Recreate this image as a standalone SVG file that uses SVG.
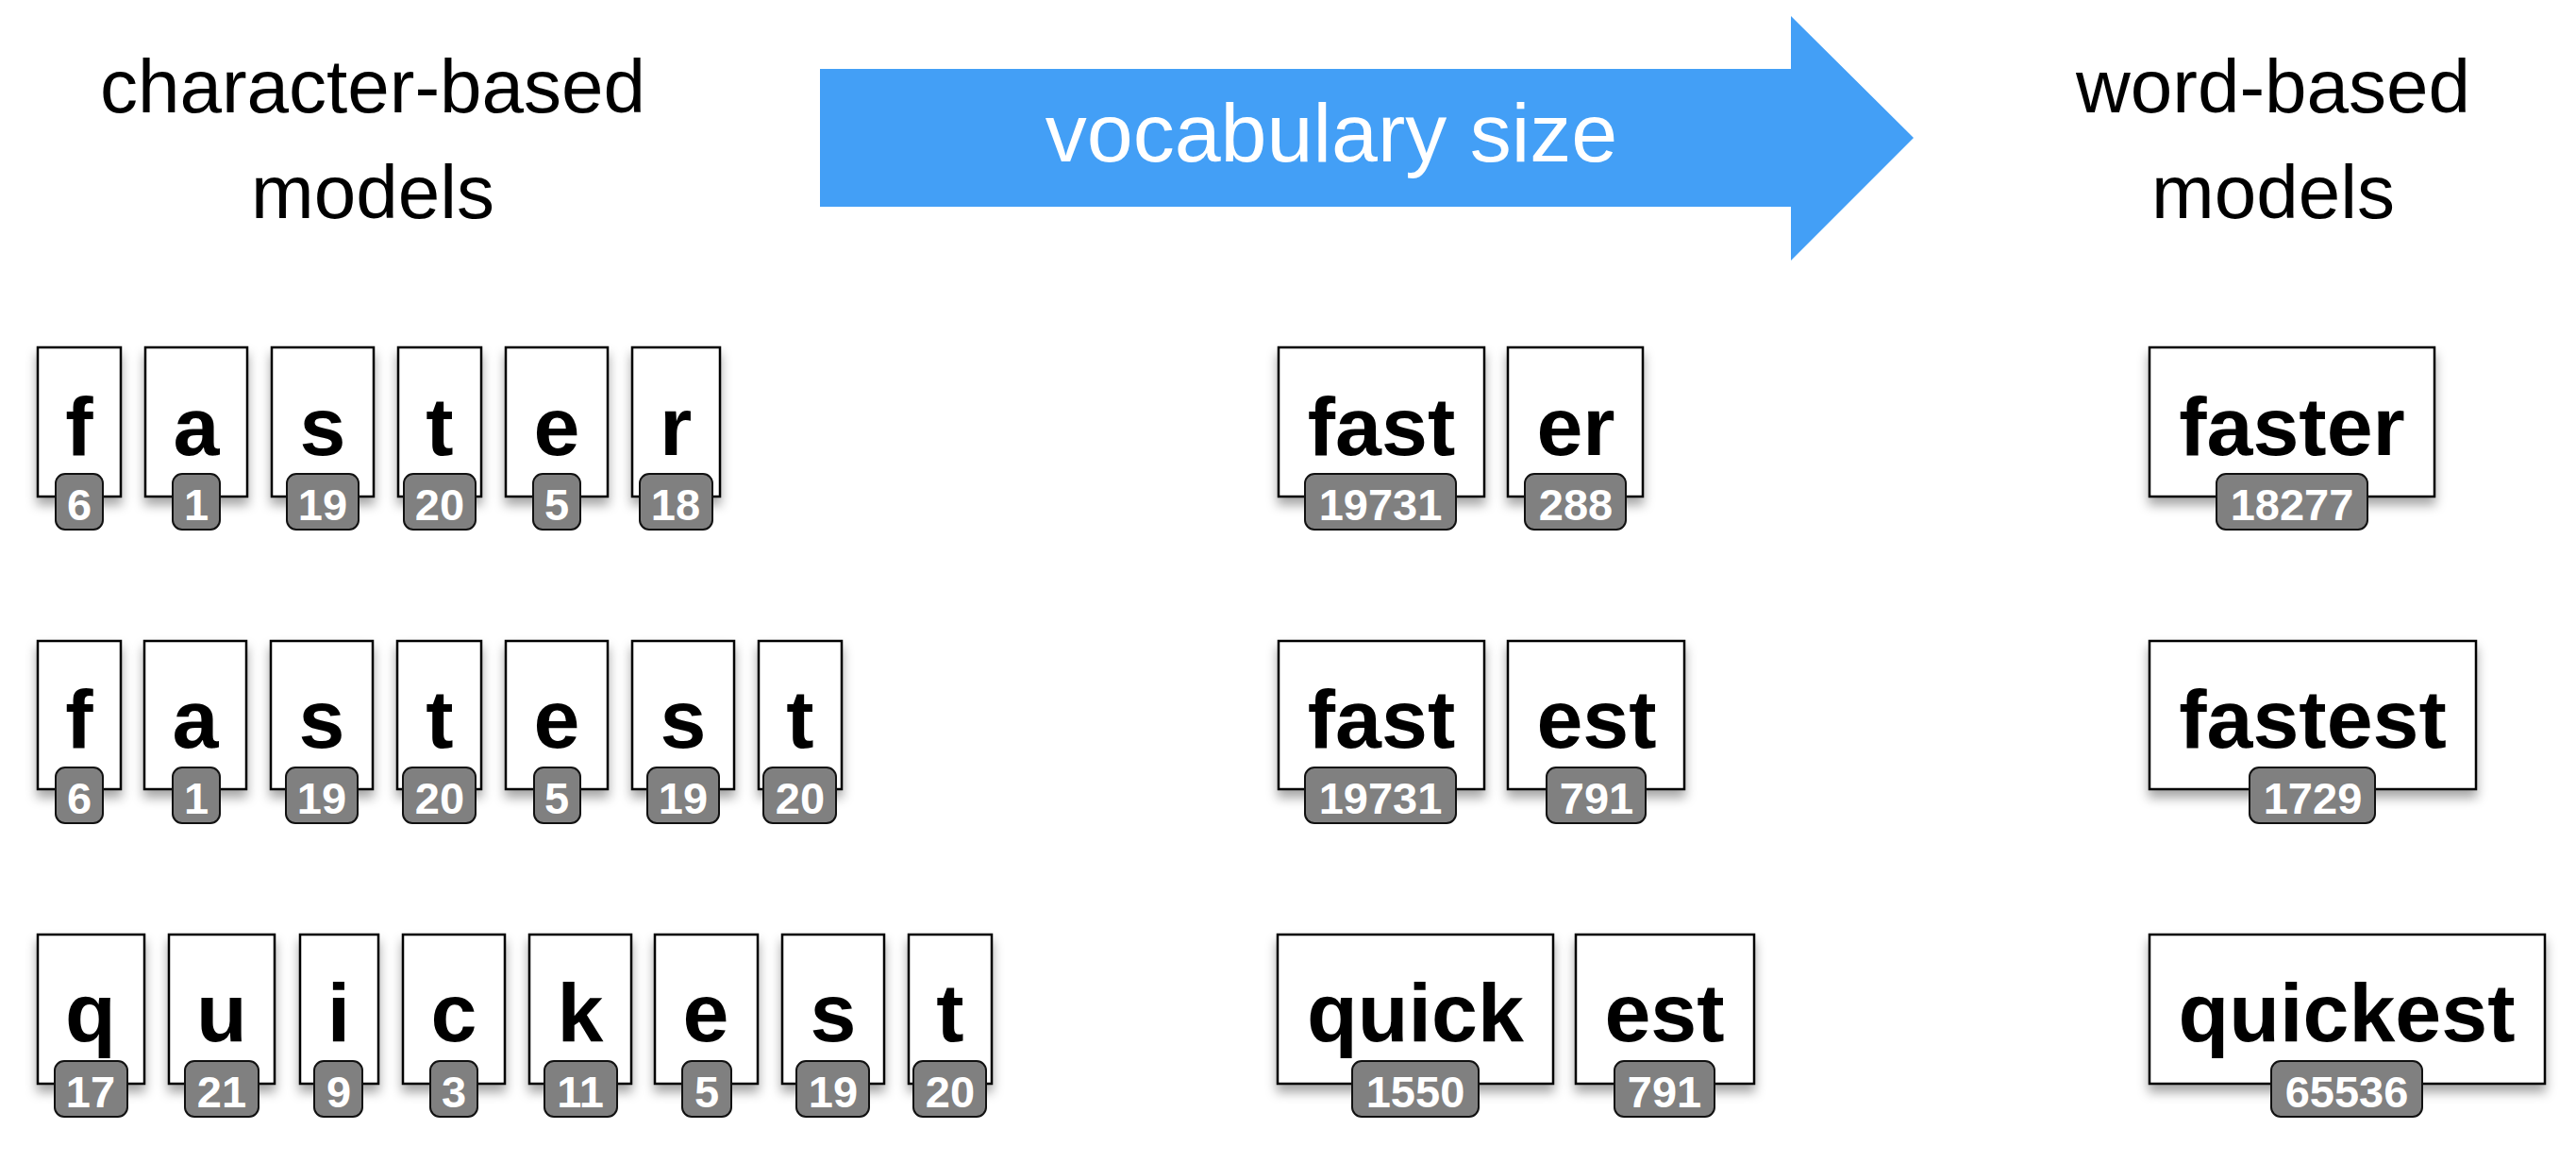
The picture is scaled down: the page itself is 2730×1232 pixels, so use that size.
<svg xmlns="http://www.w3.org/2000/svg" width="2730" height="1232" viewBox="0 0 2730 1232">
<defs>
<filter id="sh" x="-20%" y="-20%" width="140%" height="150%">
<feDropShadow dx="0" dy="8" stdDeviation="6" flood-color="#000" flood-opacity="0.35"/>
</filter>
<style>
.box{fill:#fff;stroke:#000;stroke-width:2.5;filter:url(#sh)}
.badge{fill:#808080;stroke:#111;stroke-width:2}
.lt{font-family:"Liberation Sans",Arial,sans-serif;font-weight:bold;font-size:88px;fill:#000;text-anchor:middle}
.nt{font-family:"Liberation Sans",Arial,sans-serif;font-weight:bold;font-size:47px;fill:#fff;text-anchor:middle}
.title{font-family:"Liberation Sans",Arial,sans-serif;font-size:80px;fill:#000;text-anchor:middle}
.arrowtxt{font-family:"Liberation Sans",Arial,sans-serif;font-size:88px;fill:#fff;text-anchor:middle}
</style>
</defs>
<rect width="2730" height="1232" fill="#fff"/>

<g id="title-left"><text class="title" x="395" y="119">character-based</text><text class="title" x="395" y="231">models</text></g>
<g id="title-right"><text class="title" x="2409" y="119">word-based</text><text class="title" x="2409" y="231">models</text></g>
<g id="vocab-arrow"><polygon points="869,73 1898,73 1898,17 2028,146 1898,276 1898,219 869,219" fill="#439FF6"/><text class="arrowtxt" x="1411" y="171">vocabulary size</text></g>

<g id="connectors"></g>

<!-- Row 1 left -->
<g id="r1c1"><rect class="box" x="40" y="368" width="88" height="158"/><text class="lt" x="84" y="482">f</text><rect class="badge" x="59" y="502" width="50" height="59" rx="10"/><text class="nt" x="84" y="551">6</text></g>
<g id="r1c2"><rect class="box" x="154" y="368" width="108" height="158"/><text class="lt" x="208" y="482">a</text><rect class="badge" x="183" y="502" width="50" height="59" rx="10"/><text class="nt" x="208" y="551">1</text></g>
<g id="r1c3"><rect class="box" x="288" y="368" width="108" height="158"/><text class="lt" x="342" y="482">s</text><rect class="badge" x="304" y="502" width="76" height="59" rx="10"/><text class="nt" x="342" y="551">19</text></g>
<g id="r1c4"><rect class="box" x="422" y="368" width="88" height="158"/><text class="lt" x="466" y="482">t</text><rect class="badge" x="428" y="502" width="76" height="59" rx="10"/><text class="nt" x="466" y="551">20</text></g>
<g id="r1c5"><rect class="box" x="536" y="368" width="108" height="158"/><text class="lt" x="590" y="482">e</text><rect class="badge" x="565" y="502" width="50" height="59" rx="10"/><text class="nt" x="590" y="551">5</text></g>
<g id="r1c6"><rect class="box" x="670" y="368" width="93" height="158"/><text class="lt" x="716" y="482">r</text><rect class="badge" x="678" y="502" width="77" height="59" rx="10"/><text class="nt" x="716" y="551">18</text></g>

<!-- Row 2 left -->
<g id="r2c1"><rect class="box" x="40" y="679" width="88" height="157"/><text class="lt" x="84" y="792">f</text><rect class="badge" x="59" y="813" width="50" height="59" rx="10"/><text class="nt" x="84" y="862">6</text></g>
<g id="r2c2"><rect class="box" x="153" y="679" width="108" height="157"/><text class="lt" x="207" y="792">a</text><rect class="badge" x="183" y="813" width="50" height="59" rx="10"/><text class="nt" x="208" y="862">1</text></g>
<g id="r2c3"><rect class="box" x="287" y="679" width="108" height="157"/><text class="lt" x="341" y="792">s</text><rect class="badge" x="303" y="813" width="76" height="59" rx="10"/><text class="nt" x="341" y="862">19</text></g>
<g id="r2c4"><rect class="box" x="421" y="679" width="89" height="157"/><text class="lt" x="466" y="792">t</text><rect class="badge" x="427" y="813" width="77" height="59" rx="10"/><text class="nt" x="466" y="862">20</text></g>
<g id="r2c5"><rect class="box" x="536" y="679" width="108" height="157"/><text class="lt" x="590" y="792">e</text><rect class="badge" x="566" y="813" width="49" height="59" rx="10"/><text class="nt" x="590" y="862">5</text></g>
<g id="r2c6"><rect class="box" x="670" y="679" width="108" height="157"/><text class="lt" x="724" y="792">s</text><rect class="badge" x="686" y="813" width="76" height="59" rx="10"/><text class="nt" x="724" y="862">19</text></g>
<g id="r2c7"><rect class="box" x="804" y="679" width="88" height="157"/><text class="lt" x="848" y="792">t</text><rect class="badge" x="809" y="813" width="77" height="59" rx="10"/><text class="nt" x="848" y="862">20</text></g>

<!-- Row 3 left -->
<g id="r3c1"><rect class="box" x="40" y="990" width="113" height="158"/><text class="lt" x="96" y="1103">q</text><rect class="badge" x="58" y="1124" width="77" height="59" rx="10"/><text class="nt" x="96" y="1173">17</text></g>
<g id="r3c2"><rect class="box" x="179" y="990" width="112" height="158"/><text class="lt" x="235" y="1103">u</text><rect class="badge" x="196" y="1124" width="78" height="59" rx="10"/><text class="nt" x="235" y="1173">21</text></g>
<g id="r3c3"><rect class="box" x="318" y="990" width="83" height="158"/><text class="lt" x="359" y="1103">i</text><rect class="badge" x="333" y="1124" width="51" height="59" rx="10"/><text class="nt" x="359" y="1173">9</text></g>
<g id="r3c4"><rect class="box" x="427" y="990" width="108" height="158"/><text class="lt" x="481" y="1103">c</text><rect class="badge" x="456" y="1124" width="50" height="59" rx="10"/><text class="nt" x="481" y="1173">3</text></g>
<g id="r3c5"><rect class="box" x="561" y="990" width="108" height="158"/><text class="lt" x="615" y="1103">k</text><rect class="badge" x="577" y="1124" width="77" height="59" rx="10"/><text class="nt" x="615" y="1173">11</text></g>
<g id="r3c6"><rect class="box" x="694" y="990" width="109" height="158"/><text class="lt" x="748" y="1103">e</text><rect class="badge" x="723" y="1124" width="52" height="59" rx="10"/><text class="nt" x="749" y="1173">5</text></g>
<g id="r3c7"><rect class="box" x="829" y="990" width="108" height="158"/><text class="lt" x="883" y="1103">s</text><rect class="badge" x="844" y="1124" width="77" height="59" rx="10"/><text class="nt" x="883" y="1173">19</text></g>
<g id="r3c8"><rect class="box" x="963" y="990" width="88" height="158"/><text class="lt" x="1007" y="1103">t</text><rect class="badge" x="968" y="1124" width="77" height="59" rx="10"/><text class="nt" x="1007" y="1173">20</text></g>

<!-- Middle column -->
<g id="r1m1"><rect class="box" x="1355" y="368" width="218" height="158"/><text class="lt" x="1464" y="482">fast</text><rect class="badge" x="1383" y="502" width="160" height="59" rx="10"/><text class="nt" x="1463" y="551">19731</text></g>
<g id="r1m2"><rect class="box" x="1598" y="368" width="143" height="158"/><text class="lt" x="1670" y="482">er</text><rect class="badge" x="1616" y="502" width="107" height="59" rx="10"/><text class="nt" x="1670" y="551">288</text></g>
<g id="r2m1"><rect class="box" x="1355" y="679" width="218" height="157"/><text class="lt" x="1464" y="792">fast</text><rect class="badge" x="1383" y="813" width="160" height="59" rx="10"/><text class="nt" x="1463" y="862">19731</text></g>
<g id="r2m2"><rect class="box" x="1598" y="679" width="187" height="157"/><text class="lt" x="1692" y="792">est</text><rect class="badge" x="1639" y="813" width="105" height="59" rx="10"/><text class="nt" x="1692" y="862">791</text></g>
<g id="r3m1"><rect class="box" x="1354" y="990" width="292" height="158"/><text class="lt" x="1500" y="1103">quick</text><rect class="badge" x="1433" y="1124" width="134" height="59" rx="10"/><text class="nt" x="1500" y="1173">1550</text></g>
<g id="r3m2"><rect class="box" x="1670" y="990" width="189" height="158"/><text class="lt" x="1764" y="1103">est</text><rect class="badge" x="1711" y="1124" width="106" height="59" rx="10"/><text class="nt" x="1764" y="1173">791</text></g>

<!-- Right column -->
<g id="r1w"><rect class="box" x="2278" y="368" width="302" height="158"/><text class="lt" x="2429" y="482">faster</text><rect class="badge" x="2349" y="502" width="160" height="59" rx="10"/><text class="nt" x="2429" y="551">18277</text></g>
<g id="r2w"><rect class="box" x="2278" y="679" width="346" height="157"/><text class="lt" x="2451" y="792">fastest</text><rect class="badge" x="2384" y="813" width="133" height="59" rx="10"/><text class="nt" x="2451" y="862">1729</text></g>
<g id="r3w"><rect class="box" x="2278" y="990" width="419" height="158"/><text class="lt" x="2487" y="1103">quickest</text><rect class="badge" x="2407" y="1124" width="160" height="59" rx="10"/><text class="nt" x="2487" y="1173">65536</text></g>
</svg>
